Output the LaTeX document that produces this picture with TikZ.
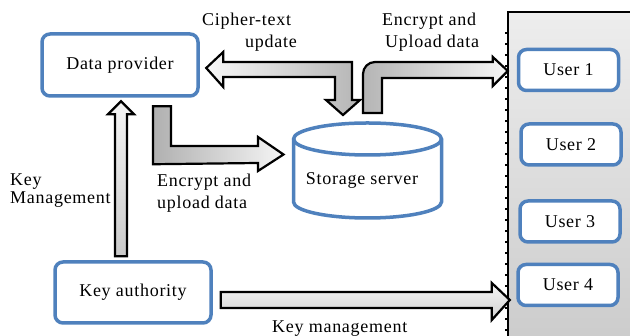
\documentclass[tikz,border=0pt]{standalone}
\usepackage{fontspec}
\setmainfont{Liberation Serif}[LetterSpace=4]
\usetikzlibrary{calc}
\definecolor{bboxblue}{HTML}{4F81BD}
\tikzset{
  bluebox/.style={draw=bboxblue, line width=3.5pt, rounded corners=8pt, fill=white,
    font=\fontsize{18}{22}\selectfont, inner sep=0pt},
  userbox/.style={bluebox, minimum width=100pt, minimum height=41pt},
  blockarrow/.style={draw=black, line width=2.2pt, line join=miter},
  lbl/.style={font=\fontsize{18}{22}\selectfont, align=left, inner sep=0pt, anchor=north west},
}
\begin{document}
\begin{tikzpicture}[x=1pt,y=1pt]
\useasboundingbox (0,0) rectangle (630,336);
\clip (0,0) rectangle (630,336);

% users panel
\node[minimum width=132pt, minimum height=330pt, inner sep=0pt,
      top color=gray!14, bottom color=gray!40] (panel) at (574,159) {};
\draw[line width=1.8pt] (panel.south west) -- (panel.north west) -- (panel.north east);
\draw[line width=2.5pt, dash pattern=on 2pt off 9pt] ($(panel.south west)+(-1.5,0)$) -- ($(panel.north west)+(-1.5,-12)$);

% nodes
\node[bluebox, minimum width=156pt, minimum height=62pt] (dp) at (120,271) {Data provider};
\node[bluebox, minimum width=156pt, minimum height=61pt] (ka) at (133,43.5) {Key authority};
\node[userbox] (u1) at (568.5,266) {User 1};
\node[userbox] (u2) at (571,191.5) {User 2};
\node[userbox] (u3) at (570,114.5) {User 3};
\node[userbox] (u4) at (568,51) {User 4};

% storage server cylinder
\coordinate (sstop) at (367.5,213);
\coordinate (ssleft) at (293.5,197);
\draw[draw=bboxblue, line width=3.5pt, fill=white]
  (ssleft) -- ++(0,-63) arc[start angle=180, end angle=360, x radius=74pt, y radius=16pt]
  -- ++(0,63) arc[start angle=0, end angle=180, x radius=74pt, y radius=16pt] -- cycle;
\draw[draw=bboxblue, line width=3.5pt] (ssleft) arc[start angle=180, end angle=360, x radius=74pt, y radius=16pt];
\node[font=\fontsize{18}{22}\selectfont, inner sep=0pt, anchor=base] (ss) at (362,151) {Storage server};

% A1: cipher-text update (double headed, data provider <-> storage)
\coordinate (t1a) at ($(dp.east)+(6.5,-3)$);
\coordinate (t1b) at ($(sstop)+(-24.5,8)$);
\filldraw[blockarrow, left color=gray!6, right color=gray!58]
  (t1a) -- ++(17,16) -- ++(0,-10) -- ($(t1b |- t1a)+(9,6)$) -- ($(t1b)+(9,15)$)
  -- ++(8,0) -- (t1b) -- ($(t1b)+(-17,15)$) -- ++(9,0)
  -- ($(t1b |- t1a)+(-8,-9)$) -- ($(t1a)+(17,-9)$) -- ++(0,-10) -- cycle;

% A2: storage -> user 1
\coordinate (b2) at ($(sstop)+(-4.5,10)$);
\coordinate (t2) at ($(panel.west |- u1.west)+(0,-1)$);
\filldraw[blockarrow, left color=gray!58, right color=gray!8]
  (b2) -- ($(b2)+(0,39)$) arc[start angle=180, end angle=90, radius=12pt]
  -- ($(t2)+(-15,9)$) -- ++(0,5) -- (t2) -- ($(t2)+(-15,-15)$) -- ++(0,8)
  -- ($(b2)+(19,35)$) -- ($(b2)+(19,0)$) -- cycle;

% A3: data provider -> storage
\coordinate (a3) at ($(dp.south)+(33,-8.5)$);
\coordinate (t3) at ($(ssleft)+(-10,-15.5)$);
\filldraw[blockarrow, left color=gray!62, right color=gray!8]
  (a3) -- ++(18,0) -- ($(t3)+(-112.5,8.5)$) -- ($(t3)+(-25.5,8.5)$) -- ++(0,9)
  -- (t3) -- ($(t3)+(-25.5,-16.5)$) -- ++(0,8) -- ($(a3)+(0,-58)$) -- cycle;

% A4: key authority -> data provider
\coordinate (t4) at ($(dp.south)+(1,-3.5)$);
\filldraw[blockarrow, top color=gray!8, bottom color=gray!42]
  (t4) -- ++(13,-13) -- ++(-7,0) -- ($(t4 |- ka.north)+(6,4)$) -- ++(-12,0)
  -- ($(t4)+(-6,-13)$) -- ++(-7,0) -- cycle;

% A5: key authority -> users
\coordinate (s5) at ($(ka.east)+(8,-7.5)$);
\coordinate (t5) at ($(s5 -| panel.west)+(2,0)$);
\filldraw[blockarrow, top color=gray!8, bottom color=gray!35]
  ($(s5)+(0,8)$) -- ($(t5)+(-18,8)$) -- ($(t5)+(-18,17)$) -- (t5)
  -- ($(t5)+(-18,-20)$) -- ($(t5)+(-18,-8)$) -- ($(s5)+(0,-8)$) -- cycle;

% labels
\node[lbl] (l1) at (202,323) {Cipher-text\\\hspace*{43pt}update};
\node[lbl] (l2) at (382,323) {Encrypt and\\\hspace*{3pt}Upload data};
\node[lbl] (l3) at (157,162.5) {Encrypt and\\upload data};
\node[lbl, font=\fontsize{18}{18}\selectfont] (l4) at (10,162.5) {Key\\Management};
\node[font=\fontsize{18}{22}\selectfont, inner sep=0pt, anchor=base west] (l5) at (272,3) {Key management};
\end{tikzpicture}
\end{document}
